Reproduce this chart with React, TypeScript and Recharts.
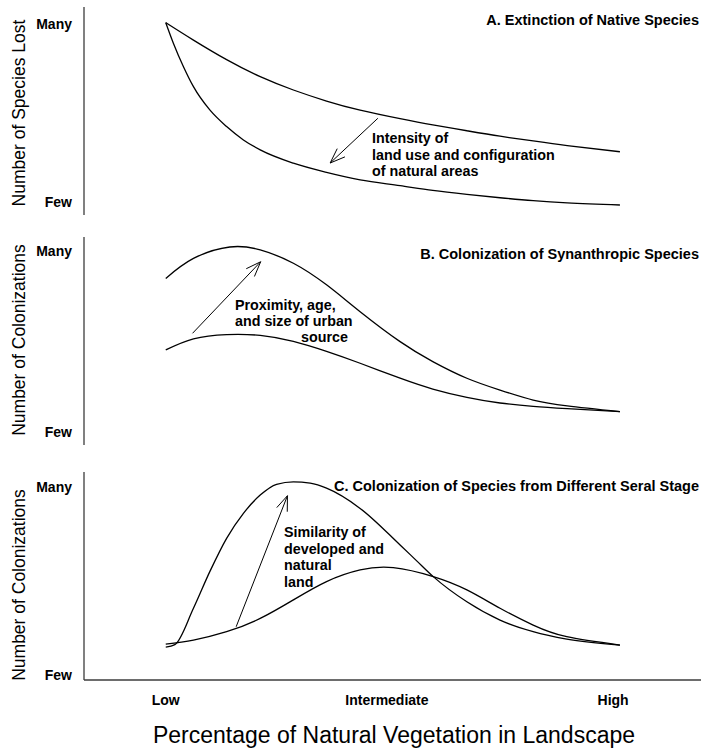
import React from "react";
import { LineChart, Line, XAxis, YAxis, ReferenceLine } from "recharts";

// x axis (shared by the three panels)
const xTicks = [0, 48.7, 98.5];
const xTickLabels = ["Low", "Intermediate", "High"];
const yTickLabels = ["Few", "Many"];

// A. Extinction of native species
const aTicks = [6.2, 91.8];
const aUpperX = [0, 6.1, 13.4, 20.8, 28.1, 35.4, 42.8, 51.6, 58.8, 66.3, 73.6, 80.9, 88.4, 100];
const aUpperY = [92.5, 84.1, 74.7, 66.5, 60.1, 54.8, 50.4, 46.3, 43.3, 40.5, 37.9, 35.6, 33.4, 30.4];
const aLowerX = [0, 1.7, 3.9, 6.1, 9.7, 13.4, 17.1, 20.8, 28.1, 35.4, 42.8, 51.6, 58.8, 66.3, 73.6, 80.9, 88.4, 100];
const aLowerY = [92.5, 82.5, 71.3, 61.7, 50.5, 42.5, 36.1, 31.3, 24.9, 20.5, 16.9, 14.1, 11.8, 9.9, 8.3, 6.9, 5.8, 4.8];
const aNotes = ["Intensity of", "land use and configuration", "of natural areas"];

// B. Colonization of synanthropic species
const bTicks = [6.0, 93.1];
const bUpperX = [0, 6.1, 14.1, 20.8, 28.1, 35.4, 42.8, 51.6, 58.8, 66.3, 73.6, 80.9, 88.4, 100];
const bUpperY = [80.1, 89.7, 95.2, 93.8, 87.4, 77.0, 64.1, 49.7, 40.1, 32.1, 26.4, 21.6, 18.8, 16.0];
const bLowerX = [0, 6.1, 13.4, 20.8, 28.1, 35.4, 42.8, 51.6, 58.8, 66.3, 73.6, 80.9, 88.4, 100];
const bLowerY = [45.7, 51.0, 53.1, 52.7, 49.8, 45.0, 39.3, 32.1, 26.9, 22.9, 20.2, 18.6, 17.5, 16.0];
const bNotes = ["Proximity, age,", "and size of urban", "source"];

// C. Colonization of species from different seral stages
const cTicks = [2.6, 92.8];
const cUpperX = [0, 2.0, 6.1, 9.7, 13.4, 17.1, 20.8, 24.4, 28.1, 31.8, 35.4, 42.8, 51.6, 55.2, 58.9, 66.3, 73.6, 80.9, 88.3, 100];
const cUpperY = [15.8, 17.0, 34.5, 52.1, 68.1, 80.1, 88.9, 94.1, 95.3, 94.6, 92.2, 82.5, 64.9, 57.4, 49.7, 37.6, 28.8, 23.2, 19.6, 16.8];
const cLowerX = [0, 6.1, 13.4, 20.8, 28.1, 35.4, 42.8, 50.1, 58.9, 66.3, 73.6, 80.9, 88.3, 100];
const cLowerY = [17.2, 19.2, 23.2, 29.6, 38.5, 47.3, 52.9, 54.0, 49.7, 43.3, 34.5, 26.4, 20.8, 16.8];
const cNotes = ["Similarity of", "developed and", "natural", "land"];

// arrows: [tail, head]
const aArrow = [{ x: 46.7, y: 46.5 }, { x: 36.2, y: 25.0 }];
const bArrow = [{ x: 5.9, y: 53.7 }, { x: 20.9, y: 88.1 }];
const cArrow = [{ x: 15.5, y: 25.6 }, { x: 26.8, y: 88.6 }];

const toPoints = (xs: number[], ys: number[]) => xs.map((x, i) => ({ x, y: ys[i] }));

const FONT = '"Liberation Sans", Arial, Helvetica, sans-serif';
const X_DOMAIN: [number, number] = [-18, 126];
const LEFT = 84;
const PLOT_W = 654;
const PLOT_H = 208;
const Y_AXIS_W = 70;
const FRAME = "#3c3c3c";

function Arrow(props: any) {
  const { x1, y1, x2, y2 } = props;
  const ang = Math.atan2(y1 - y2, x1 - x2);
  const len = 16;
  const spread = 0.36;
  const p1 = `${x2 + len * Math.cos(ang + spread)},${y2 + len * Math.sin(ang + spread)}`;
  const p2 = `${x2 + len * Math.cos(ang - spread)},${y2 + len * Math.sin(ang - spread)}`;
  return (
    <g>
      <line x1={x1} y1={y1} x2={x2} y2={y2} stroke="#000" strokeWidth={1} />
      <polyline points={`${p1} ${x2},${y2} ${p2}`} fill="none" stroke="#000" strokeWidth={1} />
    </g>
  );
}

interface PanelProps {
  top: number;
  title: string;
  titleY: number;
  yTitle: string;
  yTitleY: number;
  ticks: number[];
  upper: { x: number; y: number }[];
  lower: { x: number; y: number }[];
  upperCurve: "natural" | "monotone";
  lowerCurve: "natural" | "monotone";
  arrow: { x: number; y: number }[];
  notes: React.ReactNode;
  showX?: boolean;
}

function Panel({
  top, title, titleY, yTitle, yTitleY, ticks, upper, lower, upperCurve, lowerCurve, arrow, notes, showX,
}: PanelProps) {
  const bottomH = showX ? 71 : 0;
  const height = 5 + PLOT_H + bottomH + (showX ? 0 : 5);
  const boldTick = { fill: "#000", fontSize: 14, fontWeight: "bold" as const, fontFamily: FONT };
  return (
    <div style={{ position: "absolute", left: 0, top }}>
      <LineChart
        width={LEFT + PLOT_W}
        height={height}
        margin={{ top: 5, right: 0, bottom: showX ? 0 : 5, left: LEFT - Y_AXIS_W }}
      >
        <XAxis
          xAxisId="top"
          orientation="top"
          type="number"
          domain={X_DOMAIN}
          height={0}
          tick={false}
          tickLine={false}
          axisLine={{ stroke: FRAME, strokeWidth: 1.3 }}
        />
        <XAxis
          dataKey="x"
          type="number"
          domain={X_DOMAIN}
          allowDataOverflow
          height={bottomH}
          ticks={showX ? xTicks : []}
          tick={showX ? boldTick : false}
          tickFormatter={(_v: number, i: number) => xTickLabels[i]}
          interval={0}
          tickSize={0}
          tickMargin={15}
          axisLine={{ stroke: FRAME, strokeWidth: 1.3 }}
        />
        <YAxis
          type="number"
          domain={[0, 100]}
          width={Y_AXIS_W}
          ticks={ticks}
          interval={0}
          tick={boldTick}
          tickFormatter={(_v: number, i: number) => yTickLabels[i]}
          tickSize={0}
          tickMargin={12}
          axisLine={{ stroke: FRAME, strokeWidth: 1.3 }}
        />
        <Line data={upper} dataKey="y" type={upperCurve} stroke="#000" strokeWidth={1.3} dot={false} isAnimationActive={false} />
        <Line data={lower} dataKey="y" type={lowerCurve} stroke="#000" strokeWidth={1.3} dot={false} isAnimationActive={false} />
        <ReferenceLine segment={arrow} ifOverflow="visible" shape={(p: any) => <Arrow {...p} />} />
        <text
          x={25}
          y={yTitleY}
          transform={`rotate(-90 25 ${yTitleY})`}
          textAnchor="middle"
          fontFamily={FONT}
          fontSize={17.5}
          fill="#000"
        >
          {yTitle}
        </text>
        <text x={699} y={titleY} textAnchor="end" fontFamily={FONT} fontSize={14.5} fontWeight="bold" fill="#000">
          {title}
        </text>
        <g fontFamily={FONT} fontSize={14.3} fontWeight="bold" fill="#000">
          {notes}
        </g>
        {showX && (
          <text x={394} y={276} textAnchor="middle" fontFamily={FONT} fontSize={23} fill="#000">
            Percentage of Natural Vegetation in Landscape
          </text>
        )}
      </LineChart>
    </div>
  );
}

export default function App() {
  return (
    <div
      style={{
        position: "fixed",
        left: 0,
        top: 0,
        width: 701,
        height: 751,
        overflow: "hidden",
        background: "#fff",
      }}
    >
      <Panel
        top={2}
        title="A. Extinction of Native Species"
        titleY={23}
        yTitle="Number of Species Lost"
        yTitleY={111}
        ticks={aTicks}
        upper={toPoints(aUpperX, aUpperY)}
        lower={toPoints(aLowerX, aLowerY)}
        upperCurve="natural"
        lowerCurve="monotone"
        arrow={aArrow}
        notes={aNotes.map((t, i) => (
          <text key={t} x={372} y={141 + i * 16.7}>{t}</text>
        ))}
      />
      <Panel
        top={232}
        title="B. Colonization of Synanthropic Species"
        titleY={27}
        yTitle="Number of Colonizations"
        yTitleY={108}
        ticks={bTicks}
        upper={toPoints(bUpperX, bUpperY)}
        lower={toPoints(bLowerX, bLowerY)}
        upperCurve="natural"
        lowerCurve="natural"
        arrow={bArrow}
        notes={bNotes.map((t, i) => (
          <text key={t} x={i === 2 ? 348 : 235} y={78 + i * 15.9} textAnchor={i === 2 ? "end" : "start"}>{t}</text>
        ))}
      />
      <Panel
        top={467}
        title="C. Colonization of Species from Different Seral Stage"
        titleY={24}
        yTitle="Number of Colonizations"
        yTitleY={118}
        ticks={cTicks}
        upper={toPoints(cUpperX, cUpperY)}
        lower={toPoints(cLowerX, cLowerY)}
        upperCurve="monotone"
        lowerCurve="natural"
        arrow={cArrow}
        notes={cNotes.map((t, i) => (
          <text key={t} x={284} y={70 + i * 16.7}>{t}</text>
        ))}
        showX
      />
    </div>
  );
}
